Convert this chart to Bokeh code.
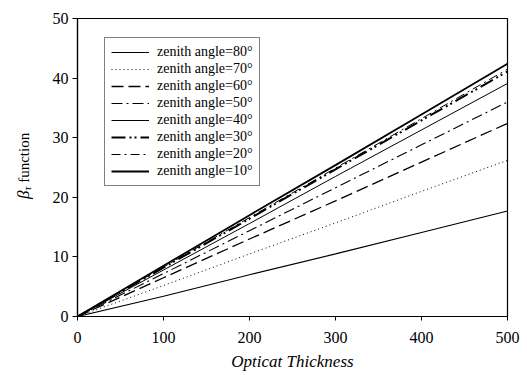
from bokeh.plotting import figure
from bokeh.models import Legend, LegendItem, Range1d, FixedTicker, Div
from bokeh.layouts import row
from bokeh.embed import file_html
from bokeh.resources import INLINE

# Optical thickness sample points
tau = [0, 100, 200, 300, 400, 500]

# beta_tau values per zenith angle
beta_80 = [0, 3.4, 7.0, 10.5, 14.1, 17.7]
beta_70 = [0, 5.2, 10.5, 15.7, 21.0, 26.2]
beta_60 = [0, 6.5, 13.0, 19.4, 25.9, 32.4]
beta_50 = [0, 7.2, 14.4, 21.6, 28.8, 36.0]
beta_40 = [0, 7.8, 15.6, 23.5, 31.3, 39.1]
beta_30 = [0, 8.2, 16.4, 24.7, 32.9, 41.1]
beta_20 = [0, 8.3, 16.6, 24.9, 33.2, 41.5]
beta_10 = [0, 8.5, 17.0, 25.4, 33.9, 42.4]

angles = ["80", "70", "60", "50", "40", "30", "20", "10"]
series = [beta_80, beta_70, beta_60, beta_50, beta_40, beta_30, beta_20, beta_10]

x_ticks = [0, 100, 200, 300, 400, 500]
y_ticks = [0, 10, 20, 30, 40, 50]

# line style per angle: (dash, width)
styles = {
    "80": ("solid", 1.2),
    "70": ("1 3", 1.0),
    "60": ("12 5", 1.3),
    "50": ("11 4 2 4", 1.1),
    "40": ("solid", 1.0),
    "30": ("14 4 2 3 2 4", 2.0),
    "20": ("9 4 2 4", 1.0),
    "10": ("solid", 1.8),
}

SERIF = "Liberation Serif"
LABEL_COL = 40  # width of the y-title column

p = figure(width=527 - LABEL_COL, height=375, output_backend="svg",
           toolbar_location=None,
           x_range=Range1d(0, 500), y_range=Range1d(0, 50),
           min_border_left=77 - LABEL_COL, min_border_right=20,
           min_border_top=18, min_border_bottom=59)
p.background_fill_color = "white"
p.border_fill_color = "white"
p.outline_line_color = "black"
p.outline_line_width = 1.2
p.grid.visible = False

renderers = []
for a, ys in zip(angles, series):
    dash, w = styles[a]
    r = p.line(tau, ys, line_color="black", line_width=w, line_dash=dash)
    renderers.append((a, r))

legend = Legend(items=[LegendItem(label=f"zenith angle={a}\u00b0", renderers=[r])
                       for a, r in renderers],
                location=(27, 130))
legend.label_text_font = SERIF
legend.label_text_font_size = "14px"
legend.label_text_color = "black"
legend.label_height = 14
legend.glyph_height = 14
legend.glyph_width = 38
legend.spacing = 1
legend.padding = 6
legend.margin = 0
legend.label_standoff = 8
legend.border_line_color = "black"
legend.border_line_width = 1.2
legend.background_fill_alpha = 1.0
p.add_layout(legend, "center")

for ax in (p.xaxis[0], p.yaxis[0]):
    ax.major_label_text_font = SERIF
    ax.major_label_text_font_size = "16px"
    ax.major_label_text_color = "black"
    ax.axis_label_text_color = "black"
    ax.axis_line_color = "black"
    ax.axis_line_width = 1.2
    ax.major_tick_line_color = "black"
    ax.minor_tick_line_color = None

p.xaxis.ticker = FixedTicker(ticks=x_ticks)
p.yaxis.ticker = FixedTicker(ticks=y_ticks)
p.xaxis.major_tick_in = 0
p.xaxis.major_tick_out = 4
p.yaxis.major_tick_in = 0
p.yaxis.major_tick_out = 5
p.xaxis.major_label_standoff = 11
p.yaxis.major_label_standoff = 4

p.xaxis.axis_label = "Opticat Thickness"
p.xaxis.axis_label_text_font = SERIF
p.xaxis.axis_label_text_font_style = "italic"
p.xaxis.axis_label_text_font_size = "17px"
p.xaxis.axis_label_standoff = 6

# y-axis title with italic beta and subscript tau, set vertically
y_title = Div(
    width=LABEL_COL, height=375, margin=0,
    text=(
        '<div style="position:relative;width:40px;height:375px;background:white;">'
        '<div style="position:absolute;left:16px;top:199px;transform-origin:0 0;'
        'transform:rotate(-90deg);white-space:nowrap;font-family:\'Liberation Serif\';'
        'font-size:15px;line-height:16px;color:black;">'
        '<i style="font-size:17px;">\u03b2</i>'
        '<i style="font-size:11px;position:relative;top:2px;">\u03c4</i>'
        '&nbsp;function</div></div>'
    ),
)

layout = row(y_title, p, spacing=0)
open("out.html", "w").write(file_html(layout, INLINE))
